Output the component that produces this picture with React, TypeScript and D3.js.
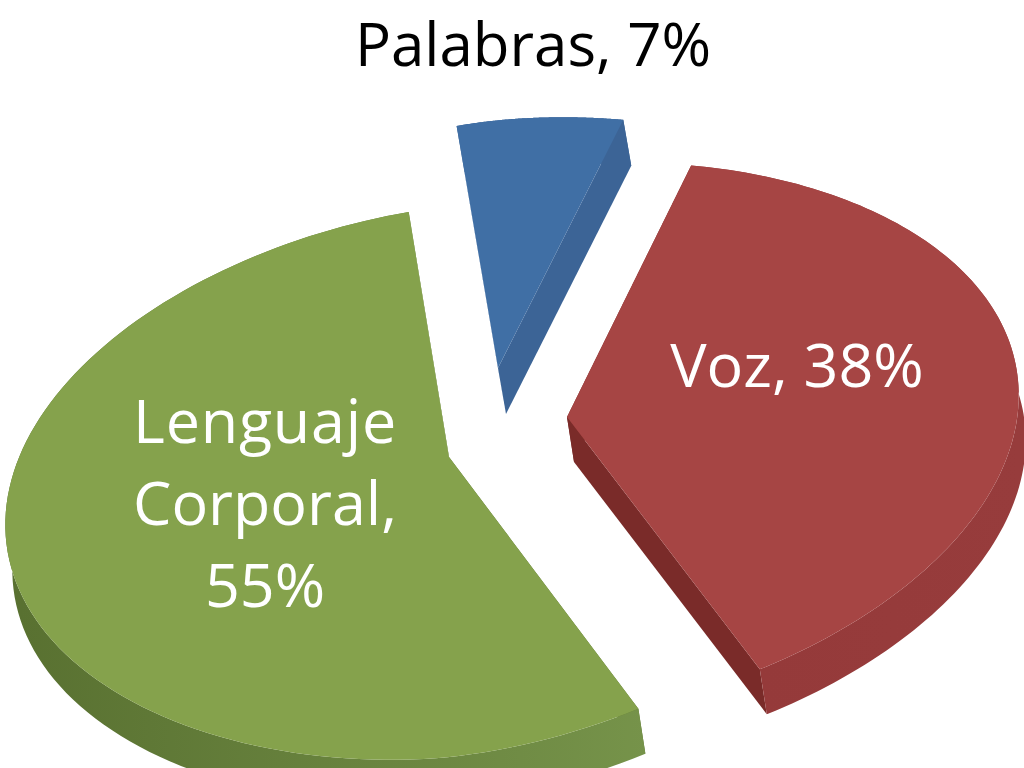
import React from "react";
import * as d3 from "d3";

const labels = ["Palabras", "Voz", "Lenguaje Corporal"];
const shares = [7, 38, 55];

const width = 1024;
const height = 768;

// rotation of the first slice, degrees clockwise from the back of the pie
const firstSliceAngle = -6.5;

// view of the tilted disc
const perspective = 0.09;
const skew = -0.1;
const sideBend = 1.06;

// each slice is pulled out of the pie on its own
const apexes = [
  { x: 498, y: 368 },
  { x: 567, y: 417 },
  { x: 449, y: 457 },
];
const radii = [454, 450, 442];
const depths = [270, 274, 273];
const walls = [
  { dx: 8, dy: 46 },
  { dx: 7, dy: 45 },
  { dx: 7, dy: 45 },
];

const topColors = ["#406fa5", "#a64544", "#85a24c"];
const edgeColors = ["#3c6496", "#7a2b29", "#5c7533"];
const rimColors = [
  ["#3c6496", "#3c6496"],
  ["#953a3a", "#973c3c"],
  ["#597131", "#76934a"],
];
const rimStops = [
  [500, 640],
  [760, 1024],
  [20, 650],
];

const pie = d3
  .pie<number>()
  .sort(null)
  .startAngle((firstSliceAngle * Math.PI) / 180)
  .endAngle(((firstSliceAngle + 360) * Math.PI) / 180);

type Pt = [number, number];

const project = (i: number, angle: number): Pt => {
  const s = Math.sin(angle);
  const u = Math.sign(s) * Math.pow(Math.abs(s), sideBend);
  const v = Math.cos(angle);
  const w = 1 + perspective * v;
  const dx = (radii[i] * u) / w;
  return [apexes[i].x + dx, apexes[i].y - (depths[i] * v) / w + skew * dx];
};

const line = d3.line<Pt>();

export default function App() {
  const slices = pie(shares);

  return (
    <svg
      width={width}
      height={height}
      viewBox={`0 0 ${width} ${height}`}
      style={{ position: "absolute", left: 0, top: 0, background: "#fff" }}
    >
      <defs>
        {rimColors.map((c, i) => (
          <linearGradient
            key={i}
            id={`rim${i}`}
            gradientUnits="userSpaceOnUse"
            x1={rimStops[i][0]}
            x2={rimStops[i][1]}
            y1={0}
            y2={0}
          >
            <stop offset="0" stopColor={c[0]} />
            <stop offset="1" stopColor={c[1]} />
          </linearGradient>
        ))}
      </defs>

      {slices.map((s, i) => {
        const down = ([x, y]: Pt): Pt => [x + walls[i].dx, y + walls[i].dy];
        const apex: Pt = [apexes[i].x, apexes[i].y];
        const arc = d3
          .range(0, 121)
          .map((n) =>
            project(i, s.startAngle + ((s.endAngle - s.startAngle) * n) / 120)
          );
        const first = arc[0];
        const last = arc[arc.length - 1];
        const rim = [...arc, ...arc.map(down).reverse()];
        return (
          <g key={labels[i]}>
            <path
              d={line([apex, first, down(first), down(apex)]) + "Z"}
              fill={edgeColors[i]}
            />
            <path
              d={line([apex, last, down(last), down(apex)]) + "Z"}
              fill={edgeColors[i]}
            />
            <path d={line(rim) + "Z"} fill={`url(#rim${i})`} />
            <path d={line([apex, ...arc]) + "Z"} fill={topColors[i]} />
          </g>
        );
      })}

      <g
        fontFamily="'Open Sans', sans-serif"
        fontSize={61}
        textAnchor="middle"
      >
        <text x={533} y={66} fontSize={60} fill="#000">
          {labels[0]}, {shares[0]}%
        </text>
        <text x={797} y={387} fill="#fff">
          {labels[1]}, {shares[1]}%
        </text>
        <text x={265} y={443} letterSpacing={0.8} fill="#fff">
          Lenguaje
        </text>
        <text x={265} y={525} fill="#fff">
          Corporal,
        </text>
        <text x={265} y={607} fill="#fff">
          {shares[2]}%
        </text>
      </g>
    </svg>
  );
}
